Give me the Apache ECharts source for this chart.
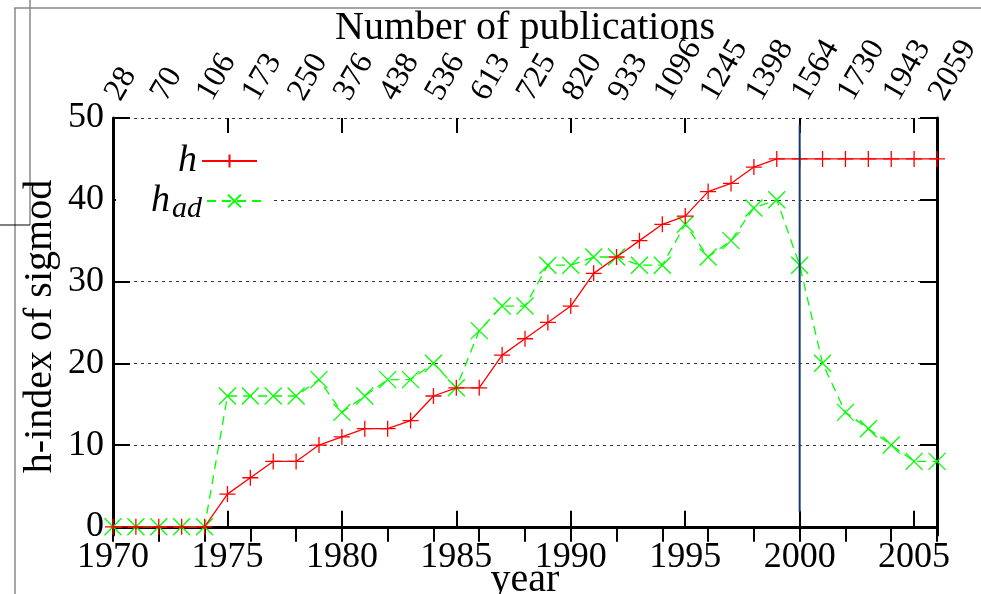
<!DOCTYPE html>
<html>
<head>
<meta charset="utf-8">
<script src="https://cdn.jsdelivr.net/npm/echarts@6/dist/echarts.min.js"></script>
<style>
  html, body { margin: 0; padding: 0; background: #fff; }
  #chart { width: 981px; height: 594px; }
</style>
</head>
<body>
<div id="chart"></div>
<script>
const years = [1970,1971,1972,1973,1974,1975,1976,1977,1978,1979,1980,1981,1982,1983,1984,1985,1986,1987,1988,1989,1990,1991,1992,1993,1994,1995,1996,1997,1998,1999,2000,2001,2002,2003,2004,2005,2006]
const hVals = [0,0,0,0,0,4,6,8,8,10,11,12,12,13,16,17,17,21,23,25,27,31,33,35,37,38,41,42,44,45,45,45,45,45,45,45,45]
const hadVals = [0,0,0,0,0,16,16,16,16,18,14,16,18,18,20,17,24,27,27,32,32,33,33,32,32,37,33,35,39,40,32,20,14,12,10,8,8]

const pubYears = [1970,1972,1974,1976,1978,1980,1982,1984,1986,1988,1990,1992,1994,1996,1998,2000,2002,2004,2006]
const pubCounts = [28,70,106,173,250,376,438,536,613,725,820,933,1096,1245,1398,1564,1730,1943,2059]

const yearTicks = [1970,1975,1980,1985,1990,1995,2000,2005]
const yTicks = [0,10,20,30,40,50]

// the vertical marker at 2000
const vlineX = [2000,2000]
const vlineY = [1.8,49.2]

const FONT = 'Liberation Serif'
const plusPath = 'path://M0,8L16,8M8,0L8,16'
const crossPath = 'path://M0,0L16,16M16,0L0,16'

const chart = echarts.init(document.getElementById('chart'))

const frameLine = { lineStyle: { color: '#000', width: 3 } }
const nameStyle = { fontFamily: FONT, fontSize: 40, color: '#000' }

const option = {
  animation: false,
  grid: { left: 113, right: 44, top: 118, bottom: 59, outerBoundsMode: 'none', containLabel: false },
  legend: [
    {
      data: ['h'], right: 718, top: 137, itemWidth: 55, itemHeight: 16,
      itemGap: 0, align: 'right',
      formatter: () => '{i|h}',
      textStyle: { rich: { i: { fontFamily: FONT, fontStyle: 'italic', fontSize: 38, color: '#000' } } }
    },
    {
      data: ['h_ad'], right: 709, top: 176, itemWidth: 55, itemHeight: 16,
      align: 'right', backgroundColor: '#fff', padding: [6, 9, 6, 35],
      formatter: () => '{i|h}{s|ad}',
      textStyle: { rich: {
        i: { fontFamily: FONT, fontStyle: 'italic', fontSize: 38, color: '#000' },
        s: { fontFamily: FONT, fontStyle: 'italic', fontSize: 30, color: '#000', padding: [16, 0, 0, 2] }
      } }
    }
  ],
  xAxis: [
    {
      type: 'value', position: 'bottom', min: 1970, max: 2006,
      name: 'year', nameLocation: 'middle', nameGap: 25, nameMoveOverlap: false,
      nameTextStyle: nameStyle,
      axisLine: frameLine,
      axisTick: { inside: true, length: 16, customValues: yearTicks, lineStyle: { color: '#000', width: 2 } },
      axisLabel: { customValues: yearTicks, fontFamily: FONT, fontSize: 36, color: '#000', margin: 5,
        formatter: v => String(v) },
      splitLine: { show: false }
    },
    {
      type: 'value', position: 'top', min: 1970, max: 2006,
      name: 'Number of publications', nameLocation: 'middle', nameGap: 70, nameMoveOverlap: false,
      nameTextStyle: nameStyle,
      axisLine: frameLine,
      axisTick: { inside: true, length: 15, customValues: pubYears, lineStyle: { color: '#000', width: 2 } },
      axisLabel: {
        customValues: pubYears, rotate: 60, fontFamily: FONT, fontSize: 32, color: '#000', margin: 20,
        formatter: v => String(pubCounts[pubYears.indexOf(v)])
      },
      splitLine: { show: false }
    },
    {
      type: 'value', position: 'top', min: 1970, max: 2006,
      axisLine: { show: false },
      axisTick: { inside: true, length: 15, customValues: yearTicks, lineStyle: { color: '#000', width: 2 } },
      axisLabel: { show: false },
      splitLine: { show: false }
    }
  ],
  yAxis: [
    {
      type: 'value', position: 'left', min: -1, max: 50,
      name: 'h-index of sigmod', nameLocation: 'middle', nameGap: 53, nameMoveOverlap: false,
      nameTextStyle: nameStyle,
      axisLine: frameLine,
      axisTick: { inside: true, length: 17, customValues: yTicks, lineStyle: { color: '#000', width: 2 } },
      axisLabel: { customValues: yTicks, fontFamily: FONT, fontSize: 36, color: '#000', margin: 9 },
      splitLine: { show: true, lineStyle: { color: '#333', width: 1, type: [3, 4] } }
    },
    {
      type: 'value', position: 'right', min: -1, max: 50,
      axisLine: frameLine,
      axisTick: { inside: true, length: 17, customValues: yTicks, lineStyle: { color: '#000', width: 2 } },
      axisLabel: { show: false },
      splitLine: { show: false }
    }
  ],
  series: [
    {
      name: 'h', type: 'line',
      data: years.map((y, i) => [y, hVals[i]]),
      symbol: plusPath, symbolSize: 16, clip: false,
      lineStyle: { color: '#ff0000', width: 1.3 },
      itemStyle: { color: 'transparent', borderColor: '#ff0000', borderWidth: 1.3 },
      emphasis: { disabled: true }, z: 3
    },
    {
      name: 'h_ad', type: 'line',
      data: years.map((y, i) => [y, hadVals[i]]),
      symbol: crossPath, symbolSize: 17, clip: false,
      lineStyle: { color: '#00ff00', width: 1.3, type: [9, 6] },
      itemStyle: { color: 'transparent', borderColor: '#00ff00', borderWidth: 1.3 },
      emphasis: { disabled: true }, z: 2
    },
    {
      name: 'line2000', type: 'line',
      data: vlineX.map((x, i) => [x, vlineY[i]]),
      symbol: 'none', silent: true,
      lineStyle: { color: '#163a6b', width: 2 }, z: 4
    }
  ],
  graphic: [
    { type: 'line', shape: { x1: 15, y1: 8, x2: 15, y2: 594 }, style: { stroke: '#888', lineWidth: 1.5 } },
    { type: 'line', shape: { x1: 14, y1: 8, x2: 981, y2: 8 }, style: { stroke: '#888', lineWidth: 1.5 } },
    { type: 'line', shape: { x1: 30, y1: 0, x2: 30, y2: 225 }, style: { stroke: '#888', lineWidth: 1.5 } },
    { type: 'line', shape: { x1: 0, y1: 225, x2: 30, y2: 225 }, style: { stroke: '#000', lineWidth: 1 } }
  ]
}

chart.setOption(option)
</script>
</body>
</html>
